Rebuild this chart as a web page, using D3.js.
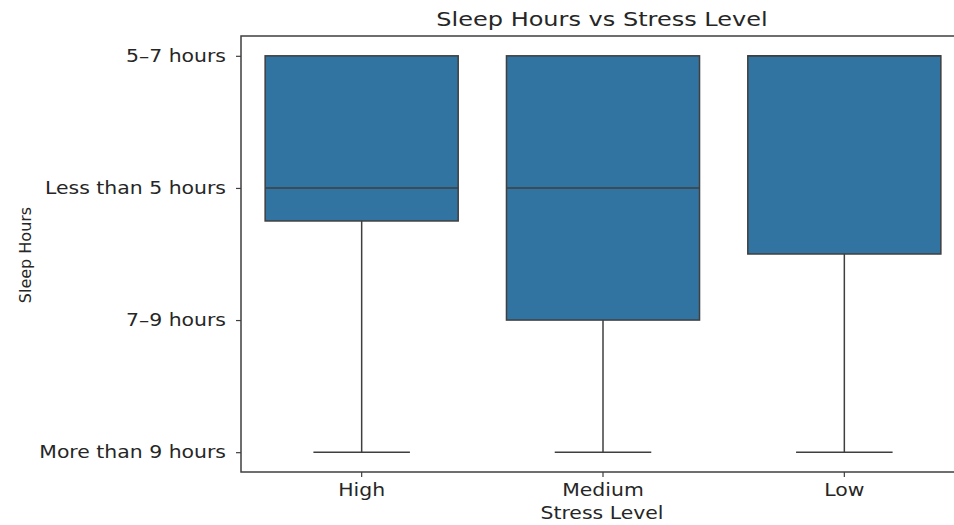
<!DOCTYPE html>
<html>
<head>
<meta charset="utf-8">
<script src="https://cdn.jsdelivr.net/npm/d3@7"></script>
<style>
  body { margin: 0; background: #fff; }
  svg text { font-family: "DejaVu Sans", sans-serif; fill: #262626; }
</style>
</head>
<body>
<div id="chart"></div>
<script>
const margin = ({top: 36, right: -11, bottom: 53, left: 241});
const totwidth = 954, totheight = 525;
const stretch = 1.2; // the reference is a bit wider than tall

// categories on the y axis, in plotting order (code 0 at the top)
const sleepLabels = ["5–7 hours", "Less than 5 hours", "7–9 hours", "More than 9 hours"];
const stressLevels = ["High", "Medium", "Low"];

// box stats, in sleep category codes
const whiskerLow = [0, 0, 0];
const q1 = [0, 0, 0];
const median = [1, 1, 0];
const q3 = [1.25, 2, 1.5];
const whiskerHigh = [3, 3, 3];

const boxes = stressLevels.map((s, i) => ({
  level: s, lo: whiskerLow[i], q1: q1[i], med: median[i], q3: q3[i], hi: whiskerHigh[i]
}));

const boxColor = "#3274a1",
  lineColor = "#3f3f3f";

var svg = d3.select("#chart").append("svg")
  .attr("width", totwidth)
  .attr("height", totheight);

var width = totwidth - margin.left - margin.right,
  height = totheight - margin.top - margin.bottom;

var g = svg.append("g")
  .attr("transform", "translate(" + margin.left + "," + margin.top + ")");

var x = d3.scaleBand()
  .domain(stressLevels)
  .range([0, width]);

// matplotlib style 5% margin around 0..3
var y = d3.scaleLinear()
  .domain([-0.15, sleepLabels.length - 1 + 0.15])
  .range([0, height]);

var boxW = x.bandwidth() * 0.8,
  capW = x.bandwidth() * 0.4;

var bx = g.selectAll("g.box")
  .data(boxes)
  .enter().append("g")
  .attr("class", "box")
  .attr("transform", d => "translate(" + (x(d.level) + x.bandwidth() / 2) + ",0)");

// whiskers
bx.append("line")
  .attr("x1", 0).attr("x2", 0)
  .attr("y1", d => y(d.q3)).attr("y2", d => y(d.hi))
  .attr("stroke", lineColor).attr("stroke-width", 1.5);
bx.append("line")
  .attr("x1", 0).attr("x2", 0)
  .attr("y1", d => y(d.lo)).attr("y2", d => y(d.q1))
  .attr("stroke", lineColor).attr("stroke-width", 1.5);
bx.append("line")
  .attr("x1", -capW / 2).attr("x2", capW / 2)
  .attr("y1", d => y(d.hi)).attr("y2", d => y(d.hi))
  .attr("stroke", lineColor).attr("stroke-width", 1.5);

bx.append("rect")
  .attr("x", -boxW / 2)
  .attr("width", boxW)
  .attr("y", d => y(d.q1))
  .attr("height", d => y(d.q3) - y(d.q1))
  .attr("fill", boxColor)
  .attr("stroke", lineColor)
  .attr("stroke-width", 1.5);

bx.append("line")
  .attr("x1", -boxW / 2).attr("x2", boxW / 2)
  .attr("y1", d => y(d.med)).attr("y2", d => y(d.med))
  .attr("stroke", lineColor).attr("stroke-width", 1.5);

// axes
var yAxis = d3.axisLeft(y)
  .tickValues(d3.range(sleepLabels.length))
  .tickFormat(i => sleepLabels[i])
  .tickSize(5).tickPadding(10);

var xAxis = d3.axisBottom(x).tickSize(5).tickPadding(7);

var ya = g.append("g").call(yAxis);
var xa = g.append("g").attr("transform", "translate(0," + height + ")").call(xAxis);

[ya, xa].forEach(a => {
  a.select(".domain").remove();
  a.selectAll(".tick line").attr("stroke", lineColor).attr("stroke-width", 1.2);
  a.selectAll("text").style("font-size", "17px").attr("fill", "#262626");
});

// frame
g.append("rect")
  .attr("width", width).attr("height", height)
  .attr("fill", "none")
  .attr("stroke", lineColor)
  .attr("stroke-width", 1.5);

svg.append("text")
  .attr("class", "wide")
  .attr("x", 602).attr("y", 26)
  .attr("text-anchor", "middle")
  .style("font-size", "20px")
  .text("Sleep Hours vs Stress Level");

svg.append("text")
  .attr("class", "wide")
  .attr("x", 602).attr("y", 519)
  .attr("text-anchor", "middle")
  .style("font-size", "17px")
  .text("Stress Level");

svg.append("text")
  .attr("transform", "translate(31," + 255 + ")rotate(-90)")
  .attr("text-anchor", "middle")
  .style("font-size", "16px")
  .text("Sleep Hours");

// widen the horizontal texts to the reference proportions
svg.selectAll(".tick text, text.wide").each(function() {
  var len = this.getComputedTextLength();
  d3.select(this)
    .attr("textLength", len * stretch)
    .attr("lengthAdjust", "spacingAndGlyphs");
});
</script>
</body>
</html>
